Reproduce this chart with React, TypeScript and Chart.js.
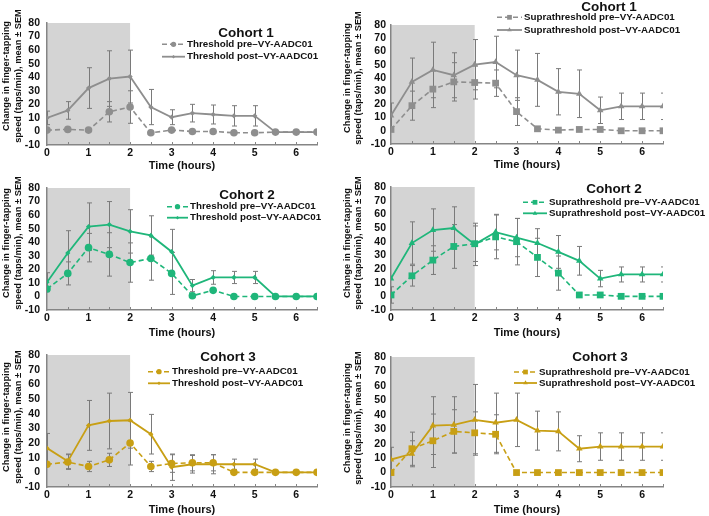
import React, { useEffect, useRef } from 'react';
import { Chart, registerables } from 'chart.js';
import { drawPoint } from 'chart.js/helpers';

Chart.register(...registerables);

// ---------------- data ----------------
const hours = [0, 0.5, 1, 1.5, 2, 2.5, 3, 3.5, 4, 4.5, 5, 5.5, 6, 6.5];
const xMin = 0;
const xMax = 6.5;
const xStep = 1;
const yMin = -10;
const yMax = 80;
const yStep = 10;
const shadeFrom = 0;
const shadeTo = 2;
const yTitleLines = ['Change in finger-tapping', 'speed (taps/min), mean ± SEM'];
const xTitleText = 'Time (hours)';

// Cohort 1
const c1ThrPre = [1, 1.5, 1, 14.5, 18, -1, 1, 0, 0, -1, -1, -0.5, -0.5, -0.5];
const c1ThrPreSem = [0, 0, 0, 7.5, 12, 0, 0, 0, 0, 0, 0, 0, 0, 0];
const c1ThrPost = [10, 15.5, 32, 39, 40.5, 18, 10.5, 13.5, 12.5, 11.5, 11.5, -0.5, -0.5, -0.5];
const c1ThrPostSem = [5, 6.5, 15, 20.5, 19.5, 13, 5.5, 6.5, 7, 7.5, 7.5, 0, 0, 0];
const c1SupPre = [1, 19, 31.5, 37, 36.5, 36, 14.5, 1.5, 0.5, 1, 1, 0, 0, 0];
const c1SupPreSem = [0, 11, 14, 14.5, 12.5, 10, 10.5, 0, 0, 0, 0, 0, 0, 0];
const c1SupPost = [11.5, 37, 46, 42, 50, 52, 42, 38.5, 29.5, 28, 15.5, 18.5, 18.5, 18.5];
const c1SupPostSem = [9.5, 18, 21, 17, 19, 19.5, 19, 20, 17.5, 18, 10, 10, 10, 10];

// Cohort 2
const c2ThrPre = [5.5, 17, 36, 31, 25, 28, 17, 0.5, 4.5, 0, 0, 0, 0, 0];
const c2ThrPreSem = [0, 8.5, 10.5, 16, 14.5, 16, 15.5, 0, 0, 0, 0, 0, 0, 0];
const c2ThrPost = [10.5, 32, 51.5, 53, 48, 45, 33, 8, 14, 14, 14, 0, 0, 0];
const c2ThrPostSem = [7, 16.5, 17.5, 17, 16, 14.5, 16.5, 4.5, 5, 4.5, 4.5, 0, 0, 0];
const c2SupPre = [1, 15, 26.5, 36.5, 38.5, 43.5, 40, 28.5, 17, 1, 1, 0, 0, 0];
const c2SupPreSem = [6, 7.5, 10.5, 16, 13, 16, 17, 14, 12.5, 0, 0, 0, 0, 0];
const c2SupPost = [13, 39, 48.5, 50, 38, 47, 43, 39, 32.5, 26, 13, 16, 16, 16];
const c2SupPostSem = [0, 15.5, 15.5, 15.5, 15.5, 13, 14, 10.5, 12, 10.5, 6, 5.5, 5.5, 5.5];

// Cohort 3
const c3ThrPre = [5.5, 7, 4, 8.5, 20, 4, 6, 6.5, 6.5, 0, 0, 0, 0, 0];
const c3ThrPreSem = [0, 5, 3.5, 4.5, 15, 3.5, 6, 5.5, 5.5, 0, 0, 0, 0, 0];
const c3ThrPost = [16.5, 7.5, 32, 35, 35.5, 26, 3.5, 5.5, 5.5, 5.5, 5.5, 0, 0, 0];
const c3ThrPostSem = [10, 5, 17, 19, 19, 13.5, 9, 6, 6.5, 3.5, 3.5, 0, 0, 0];
const c3SupPre = [0, 16.5, 22, 28.5, 27.5, 26.5, 0, 0, 0, 0, 0, 0, 0, 0];
const c3SupPreSem = [0, 11.5, 18.5, 15, 14.5, 13.5, 0, 0, 0, 0, 0, 0, 0, 0];
const c3SupPost = [9, 13, 32.5, 33, 36.5, 34.5, 36.5, 29, 28.5, 16.5, 18, 18, 18, 18];
const c3SupPostSem = [8.5, 9, 20, 19.5, 24.5, 20.5, 18.5, 13.5, 13.5, 9, 9.5, 9.5, 9.5, 9.5];

// ---------------- styles ----------------
const FONT = "'Liberation Sans', Arial, Helvetica, sans-serif";
const TEXT = '#111111';
const AXIS = '#858585';
const ERR = '#7a7a7a';
const SHADE = '#d4d4d4';
const GRAY = '#8e8e8e';
const GREEN = '#1fb67a';
const GOLD = '#c89f14';

Chart.defaults.font.family = FONT;

type Panel = {
  cohort: string;
  kind: 'Threshold' | 'Suprathreshold';
  pre: number[]; preSem: number[]; post: number[]; postSem: number[];
  color: string;
  left: number; top: number; width: number;
  areaTop: number; areaBottom: number; areaRight: number; yAxisW: number;
  yTickPad: number; yTitleX: number[]; yTitleY: number;
  xTitleY: number;
  legend: { titleX: number; titleY: number; x0: number; x1: number; textX: number; rows: number[] };
};

const LEFT_COL = { left: 0, width: 335, yAxisW: 47, areaRight: 317, yTickPad: 7, yTitleX: [6.5, 18] };
const RIGHT_COL = { left: 337, width: 372, yAxisW: 54, areaRight: 663, yTickPad: 5, yTitleX: [347.5, 358.8] };

const panels: Panel[] = [
  { cohort: 'Cohort 1', kind: 'Threshold', pre: c1ThrPre, preSem: c1ThrPreSem, post: c1ThrPost, postSem: c1ThrPostSem, color: GRAY,
    ...LEFT_COL, top: 0, areaTop: 23, areaBottom: 145, xTitleY: 165.7, yTitleY: 76,
    legend: { titleX: 246, titleY: 33, x0: 162, x1: 185, textX: 187, rows: [44.3, 56.7] } },
  { cohort: 'Cohort 1', kind: 'Suprathreshold', pre: c1SupPre, preSem: c1SupPreSem, post: c1SupPost, postSem: c1SupPostSem, color: GRAY,
    ...RIGHT_COL, top: 0, areaTop: 25, areaBottom: 144, xTitleY: 165, yTitleY: 78,
    legend: { titleX: 609, titleY: 7, x0: 497, x1: 522, textX: 524, rows: [17.3, 30] } },
  { cohort: 'Cohort 2', kind: 'Threshold', pre: c2ThrPre, preSem: c2ThrPreSem, post: c2ThrPost, postSem: c2ThrPostSem, color: GREEN,
    ...LEFT_COL, top: 165, areaTop: 188, areaBottom: 310, xTitleY: 332.7, yTitleY: 243,
    legend: { titleX: 247, titleY: 195, x0: 167, x1: 188, textX: 190, rows: [206.7, 217.7] } },
  { cohort: 'Cohort 2', kind: 'Suprathreshold', pre: c2SupPre, preSem: c2SupPreSem, post: c2SupPost, postSem: c2SupPostSem, color: GREEN,
    ...RIGHT_COL, top: 165, areaTop: 187, areaBottom: 310, xTitleY: 333.3, yTitleY: 243,
    legend: { titleX: 614, titleY: 189, x0: 523, x1: 547, textX: 549, rows: [202.3, 213.3] } },
  { cohort: 'Cohort 3', kind: 'Threshold', pre: c3ThrPre, preSem: c3ThrPreSem, post: c3ThrPost, postSem: c3ThrPostSem, color: GOLD,
    ...LEFT_COL, top: 332, areaTop: 355, areaBottom: 487, xTitleY: 510.7, yTitleY: 417,
    legend: { titleX: 228, titleY: 357, x0: 148, x1: 170, textX: 172, rows: [371.7, 383.3] } },
  { cohort: 'Cohort 3', kind: 'Suprathreshold', pre: c3SupPre, preSem: c3SupPreSem, post: c3SupPost, postSem: c3SupPostSem, color: GOLD,
    ...RIGHT_COL, top: 332, areaTop: 357, areaBottom: 487, xTitleY: 510, yTitleY: 418,
    legend: { titleX: 600, titleY: 357, x0: 514, x1: 537, textX: 539, rows: [372, 383] } },
];

const X_AXIS_H = 30;
const TICK_FONT = 10.5;
const XTITLE_FONT = 11;
const YTITLE_FONT = 9.3;

const decorPlugin = {
  id: 'panelDecor',
  beforeDraw(chart: any) {
    const { ctx, chartArea, scales } = chart;
    const x = scales.x;
    const a = x.getPixelForValue(shadeFrom);
    const b = x.getPixelForValue(shadeTo);
    ctx.save();
    ctx.fillStyle = SHADE;
    ctx.fillRect(a, chartArea.top, b - a, chartArea.bottom - chartArea.top);
    ctx.restore();
  },
  beforeDatasetsDraw(chart: any) {
    const { ctx, chartArea, scales } = chart;
    const x = scales.x, y = scales.y;
    ctx.save();
    ctx.beginPath();
    ctx.rect(chartArea.left, chartArea.top, chartArea.right - chartArea.left, chartArea.bottom - chartArea.top);
    ctx.clip();
    ctx.strokeStyle = ERR;
    ctx.lineWidth = 1;
    chart.data.datasets.forEach((ds: any) => {
      const sem: number[] = ds.sem || [];
      ds.data.forEach((p: any, i: number) => {
        const s = sem[i];
        if (!s) return;
        const px = Math.round(x.getPixelForValue(p.x)) + 0.5;
        const y1 = y.getPixelForValue(p.y + s);
        const y2 = y.getPixelForValue(p.y - s);
        ctx.beginPath();
        ctx.moveTo(px, y1); ctx.lineTo(px, y2);
        ctx.moveTo(px - 2.5, y1); ctx.lineTo(px + 2.5, y1);
        ctx.moveTo(px - 2.5, y2); ctx.lineTo(px + 2.5, y2);
        ctx.stroke();
      });
    });
    ctx.restore();
    // small inward ticks on x axis at every sampled time
    ctx.save();
    ctx.strokeStyle = AXIS;
    ctx.lineWidth = 1;
    hours.forEach((h) => {
      if (h === 0) return;
      const px = Math.round(x.getPixelForValue(h)) + 0.5;
      ctx.beginPath();
      ctx.moveTo(px, chartArea.bottom);
      ctx.lineTo(px, chartArea.bottom - 3);
      ctx.stroke();
    });
    ctx.restore();
  },
  afterDraw(chart: any, _a: any, opts: any) {
    const { ctx } = chart;
    const ox = opts.offsetX, oy = opts.offsetY;
    ctx.save();
    ctx.fillStyle = TEXT;
    ctx.textAlign = 'center';
    ctx.textBaseline = 'middle';
    // y axis title (two lines, rotated)
    ctx.font = `bold ${YTITLE_FONT}px ${FONT}`;
    yTitleLines.forEach((line, i) => {
      ctx.save();
      ctx.translate(opts.yTitleX[i] - ox, opts.yTitleY - oy);
      ctx.rotate(-Math.PI / 2);
      ctx.fillText(line, 0, 0);
      ctx.restore();
    });
    // panel title
    ctx.font = `bold 13.5px ${FONT}`;
    ctx.fillText(opts.title, opts.titleX - ox, opts.titleY - oy);
    // legend
    ctx.font = `bold 9.8px ${FONT}`;
    chart.data.datasets.forEach((ds: any, i: number) => {
      const yy = opts.rows[i] - oy;
      const x0 = opts.x0 - ox, x1 = opts.x1 - ox;
      ctx.strokeStyle = ds.borderColor;
      ctx.lineWidth = ds.borderWidth;
      ctx.setLineDash(ds.borderDash || []);
      ctx.beginPath();
      ctx.moveTo(x0, yy); ctx.lineTo(x1, yy);
      ctx.stroke();
      ctx.setLineDash([]);
      ctx.fillStyle = ds.backgroundColor;
      drawPoint(ctx, { pointStyle: ds.pointStyle, radius: ds.pointRadius * 0.7, borderWidth: 0, rotation: 0 } as any, (x0 + x1) / 2, yy);
      ctx.fillStyle = TEXT;
      ctx.textAlign = 'left';
      ctx.fillText(ds.label, opts.textX - ox, yy);
    });
    ctx.restore();
  },
};

function buildConfig(p: Panel, height: number): any {
  const thr = p.kind === 'Threshold';
  const series = (vals: number[]) => hours.map((h, i) => ({ x: h, y: vals[i] }));
  const xtLH = XTITLE_FONT * 1.2;
  const xTitlePad = Math.max(0, p.top + height - p.xTitleY - xtLH / 2);
  return {
    type: 'line',
    data: {
      datasets: [
        {
          label: `${p.kind} pre–VY-AADC01`,
          data: series(p.pre),
          sem: p.preSem,
          borderColor: p.color,
          backgroundColor: p.color,
          borderWidth: 1.6,
          borderDash: [5, 3],
          pointStyle: thr ? 'circle' : 'rect',
          pointRadius: thr ? 3.8 : 4.8,
          pointBorderWidth: 0,
          tension: 0,
        },
        {
          label: `${p.kind} post–VY-AADC01`,
          data: series(p.post),
          sem: p.postSem,
          borderColor: p.color,
          backgroundColor: p.color,
          borderWidth: 1.8,
          pointStyle: thr ? 'rectRot' : 'triangle',
          pointRadius: thr ? 2.6 : 3.8,
          pointBorderWidth: 0,
          tension: 0,
        },
      ],
    },
    options: {
      responsive: false,
      animation: false,
      devicePixelRatio: 1,
      layout: { padding: { left: 0, top: p.areaTop - p.top, right: p.width - (p.areaRight - p.left), bottom: 0 } },
      plugins: {
        legend: { display: false },
        tooltip: { enabled: false },
        title: { display: false },
        panelDecor: {
          offsetX: p.left, offsetY: p.top, title: p.cohort,
          yTitleX: p.yTitleX, yTitleY: p.yTitleY,
          ...p.legend,
        },
      },
      scales: {
        x: {
          type: 'linear',
          min: xMin,
          max: xMax,
          afterFit: (s: any) => { s.height = X_AXIS_H; },
          grid: { display: false, drawTicks: false, tickLength: 0 },
          border: { display: true, color: AXIS, width: 1.5 },
          ticks: { stepSize: xStep, includeBounds: false, autoSkip: false, maxRotation: 0, padding: 1.7, color: TEXT, font: { size: TICK_FONT, weight: 'bold' } },
          title: { display: true, text: xTitleText, color: TEXT, font: { size: XTITLE_FONT, weight: 'bold', lineHeight: 1.2 }, padding: { top: 0, bottom: xTitlePad } },
        },
        y: {
          type: 'linear',
          min: yMin,
          max: yMax,
          afterFit: (s: any) => { s.width = p.yAxisW; },
          grid: { display: false, drawTicks: false, tickLength: 0 },
          border: { display: true, color: AXIS, width: 1.5 },
          ticks: { stepSize: yStep, autoSkip: false, padding: p.yTickPad, color: TEXT, font: { size: TICK_FONT, weight: 'bold' } },
          title: { display: false },
        },
      },
    },
    plugins: [decorPlugin],
  };
}

function PanelChart({ p }: { p: Panel }) {
  const ref = useRef<HTMLCanvasElement>(null);
  const height = p.areaBottom - p.top + X_AXIS_H;
  useEffect(() => {
    if (!ref.current) return;
    const chart = new Chart(ref.current, buildConfig(p, height));
    return () => chart.destroy();
  }, []);
  return (
    <canvas
      ref={ref}
      width={p.width}
      height={height}
      style={{ position: 'absolute', left: p.left, top: p.top, width: p.width, height, display: 'block' }}
    />
  );
}

export default function App() {
  return (
    <div style={{ position: 'absolute', left: 0, top: 0, width: 709, height: 516, overflow: 'hidden', background: '#ffffff' }}>
      {panels.map((p, i) => (
        <PanelChart key={i} p={p} />
      ))}
    </div>
  );
}
